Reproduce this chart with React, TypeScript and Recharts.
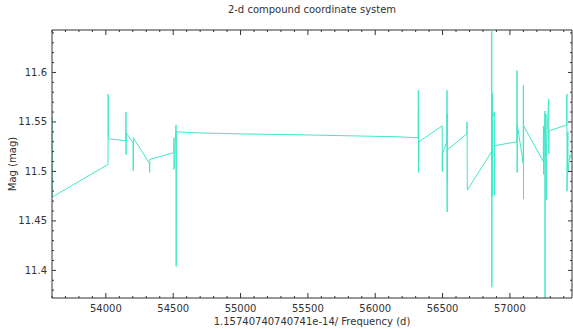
import { LineChart, Line, XAxis, YAxis, ReferenceLine } from 'recharts';

const times = [
  53600, 53601, 54016, 54017, 54018, 54148, 54149, 54150, 54151, 54202,
  54203, 54204, 54324, 54325, 54326, 54504, 54505, 54506, 54521, 54522,
  54523, 54676, 54973, 55441, 56169, 56319, 56320, 56321, 56322, 56323,
  56324, 56497, 56498, 56499, 56532, 56533, 56534, 56535, 56536, 56537,
  56681, 56682, 56683, 56684, 56864, 56865, 56866, 56867, 56868, 56869,
  56870, 56871, 56885, 56886, 56887, 57052, 57053, 57054, 57055, 57099,
  57100, 57101, 57102, 57248, 57249, 57250, 57260, 57261, 57262, 57268,
  57269, 57270, 57288, 57289, 57290, 57422, 57423, 57424, 57430, 57431,
  57447, 57461,
];
const mags = [
  11.555, 11.474, 11.507, 11.578, 11.533, 11.531, 11.560, 11.517, 11.539, 11.529,
  11.501, 11.534, 11.508, 11.499, 11.512, 11.519, 11.534, 11.502, 11.547, 11.404,
  11.540, 11.539, 11.538, 11.537, 11.535, 11.534, 11.582, 11.499, 11.562, 11.510,
  11.530, 11.546, 11.500, 11.518, 11.530, 11.582, 11.459, 11.558, 11.489, 11.522,
  11.538, 11.550, 11.503, 11.481, 11.520, 11.648, 11.383, 11.567, 11.506, 11.579,
  11.475, 11.555, 11.560, 11.476, 11.526, 11.530, 11.602, 11.499, 11.547, 11.508,
  11.587, 11.472, 11.546, 11.510, 11.546, 11.497, 11.561, 11.370, 11.530, 11.558,
  11.471, 11.520, 11.573, 11.518, 11.541, 11.547, 11.578, 11.480, 11.540, 11.500,
  11.517, 11.510,
];

const xMajor = [54000, 54500, 55000, 55500, 56000, 56500, 57000];
const yMajor = [11.4, 11.45, 11.5, 11.55, 11.6];
const xDomain = [53600, 57461];
const yDomain = [11.3721, 11.6429];

const data = times.map((t, i) => ({ t, mag: mags[i] }));

const xTicks: number[] = [];
for (let v = 53600; v <= 57400; v += 100) xTicks.push(v);
const yTicks: number[] = [];
for (let k = 1138; k <= 1164; k++) yTicks.push(k / 100);

const TOP = 30;
const BOTTOM = 298;
const LEFT = 52;
const RIGHT = 572;
const AXIS = '#333';
const FONT = '"DejaVu Sans", sans-serif';

function XTick(props: any) {
  const { x, payload } = props;
  const major = xMajor.includes(payload.value);
  const len = major ? 5 : 2;
  return (
    <g>
      <line x1={x} x2={x} y1={BOTTOM} y2={BOTTOM - len} stroke={AXIS} />
      <line x1={x} x2={x} y1={TOP} y2={TOP + len} stroke={AXIS} />
      {major && (
        <text x={x} y={BOTTOM + 14} textAnchor="middle" fontSize={10} fontFamily={FONT} fill={AXIS}>
          {payload.value}
        </text>
      )}
    </g>
  );
}

function YTick(props: any) {
  const { y, payload } = props;
  const major = yMajor.some(m => Math.abs(m - payload.value) < 1e-6);
  const len = major ? 4 : 2;
  return (
    <g>
      <line x1={LEFT} x2={LEFT + len} y1={y} y2={y} stroke={AXIS} />
      <line x1={RIGHT} x2={RIGHT - len} y1={y} y2={y} stroke={AXIS} />
      {major && (
        <text x={LEFT - 5} y={y + 3.5} textAnchor="end" fontSize={10} fontFamily={FONT} fill={AXIS}>
          {String(payload.value)}
        </text>
      )}
    </g>
  );
}

export default function App() {
  return (
    <div style={{ position: 'absolute', left: 0, top: 0, width: 573, height: 329, background: '#fff', fontFamily: FONT, color: AXIS }}>
      <LineChart width={573} height={329} data={data} margin={{ top: TOP, right: 1, bottom: 0, left: 0 }}>
        <XAxis
          dataKey="t" type="number" domain={xDomain} allowDataOverflow
          ticks={xTicks} interval={0} tick={<XTick />} tickLine={false}
          axisLine={{ stroke: AXIS }} height={31}
        />
        <YAxis
          type="number" domain={yDomain} allowDataOverflow
          ticks={yTicks} interval={0} tick={<YTick />} tickLine={false}
          axisLine={{ stroke: AXIS }} width={52}
        />
        <ReferenceLine y={yDomain[1]} stroke={AXIS} />
        <ReferenceLine x={xDomain[1]} stroke={AXIS} />
        <Line dataKey="mag" stroke="#40e8c8" strokeWidth={1} dot={false} isAnimationActive={false} />
      </LineChart>
      <div style={{ position: 'absolute', left: LEFT, width: RIGHT - LEFT, top: 4, textAlign: 'center', fontSize: 10 }}>
        2-d compound coordinate system
      </div>
      <div style={{ position: 'absolute', left: LEFT, width: RIGHT - LEFT, top: 316, textAlign: 'center', fontSize: 10 }}>
        1.15740740740741e-14/ Frequency (d)
      </div>
      <div style={{ position: 'absolute', left: 12, top: 164, width: 0, height: 0 }}>
        <div style={{ position: 'absolute', transform: 'translate(-50%, -50%) rotate(-90deg)', whiteSpace: 'nowrap', fontSize: 10 }}>
          Mag (mag)
        </div>
      </div>
    </div>
  );
}
